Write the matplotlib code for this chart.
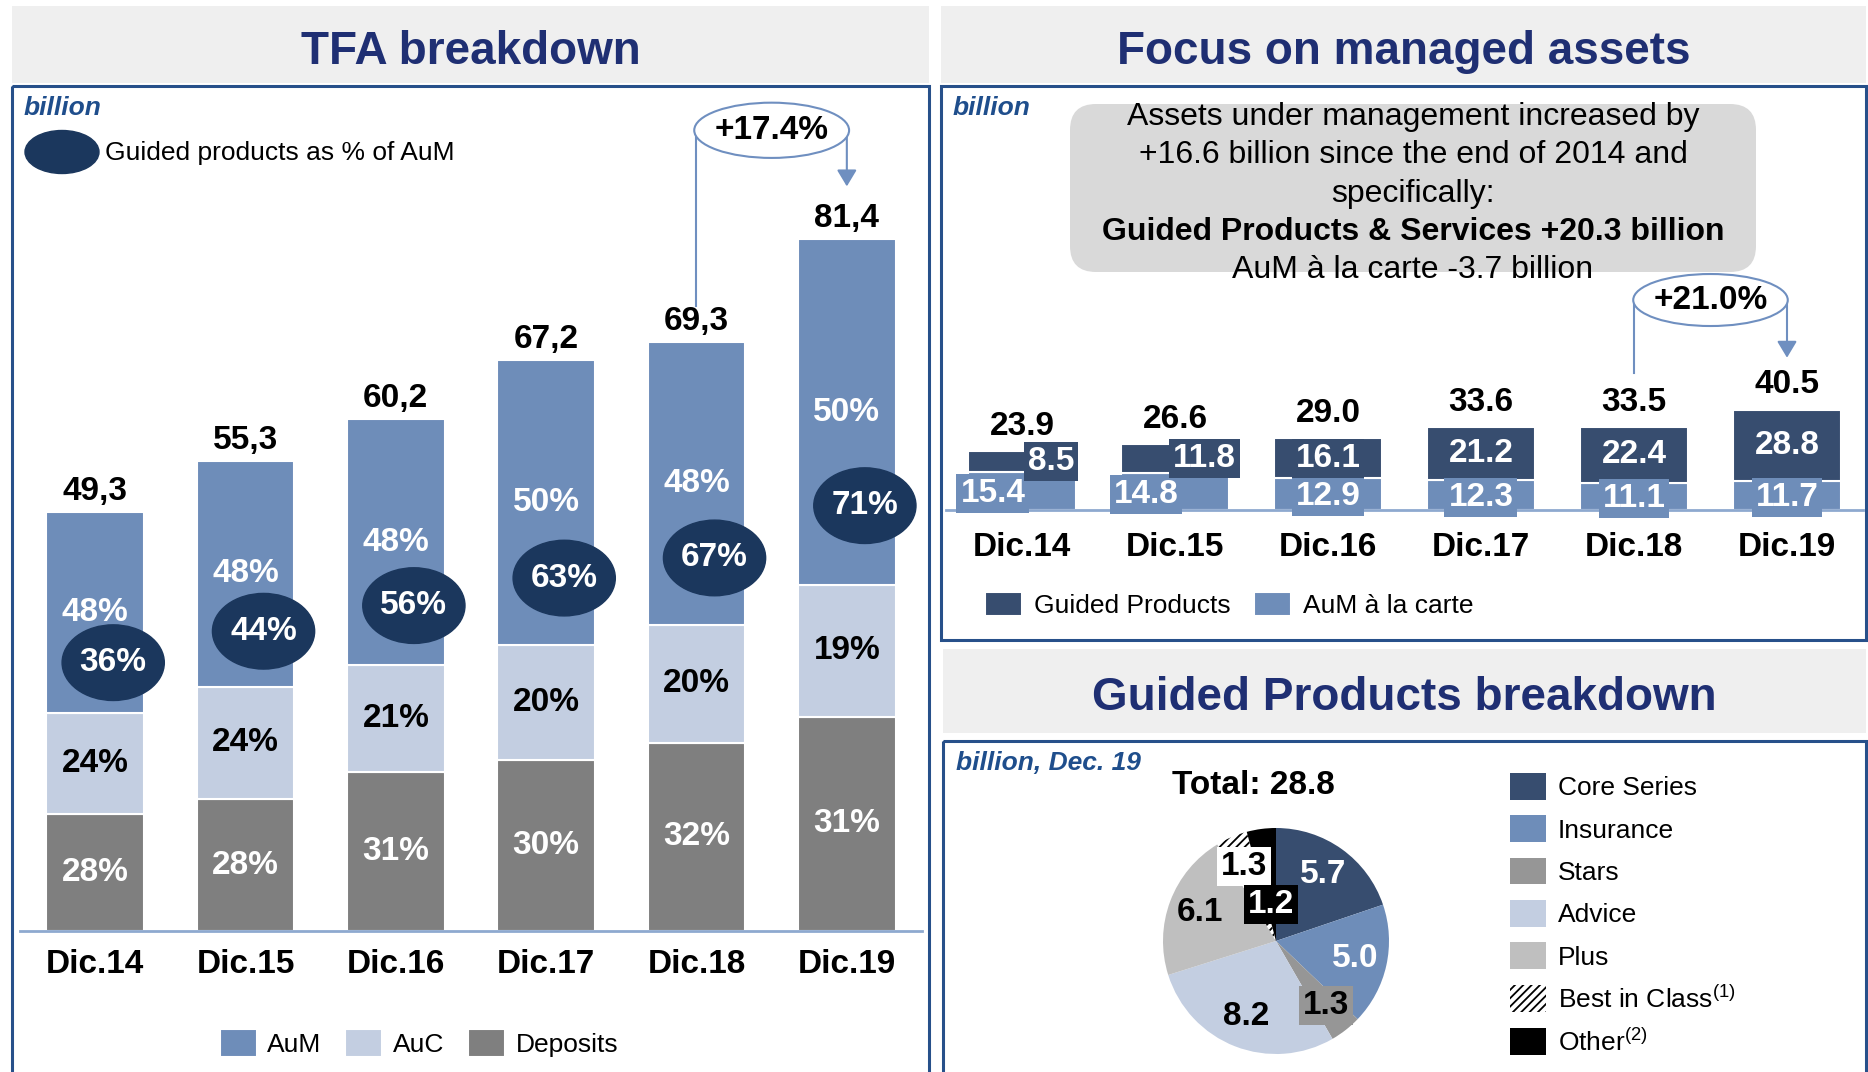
import numpy as np
import matplotlib.pyplot as plt
from matplotlib.patches import Rectangle, Ellipse, FancyBboxPatch, Patch

plt.rcParams['font.family'] = ['Liberation Sans', 'DejaVu Sans']
plt.rcParams['mathtext.fontset'] = 'custom'
plt.rcParams['mathtext.rm'] = 'Liberation Sans'
plt.rcParams['hatch.linewidth'] = 1.3

## data
years = ['Dic.14', 'Dic.15', 'Dic.16', 'Dic.17', 'Dic.18', 'Dic.19']
tfa_total = [49.3, 55.3, 60.2, 67.2, 69.3, 81.4]
aum_pct = [48, 48, 48, 50, 48, 50]
auc_pct = [24, 24, 21, 20, 20, 19]
dep_pct = [28, 28, 31, 30, 32, 31]
guided_pct = [36, 44, 56, 63, 67, 71]
tfa_growth = '+17.4%'

guided = [8.5, 11.8, 16.1, 21.2, 22.4, 28.8]
carte = [15.4, 14.8, 12.9, 12.3, 11.1, 11.7]
managed_total = [23.9, 26.6, 29.0, 33.6, 33.5, 40.5]
managed_growth = '+21.0%'

pie_labels = ['Core Series', 'Insurance', 'Stars', 'Advice', 'Plus',
              'Best in Class$^{(1)}$', 'Other$^{(2)}$']
pie_values = [5.7, 5.0, 1.3, 8.2, 6.1, 1.3, 1.2]
pie_total = 28.8

box_lines = ['Assets under management increased by',
             '+16.6 billion since the end of 2014 and',
             'specifically:',
             'Guided Products & Services +20.3 billion',
             'AuM à la carte -3.7 billion']

## colours
TITLE = '#1F2F73'
BORDER = '#27508A'
BAND = '#EFEFEF'
UNIT = '#1F4E8C'
C_AUM = '#6E8DB9'
C_AUC = '#C3CEE1'
C_DEP = '#7F7F7F'
C_CIRC = '#1B375D'
C_GUIDED = '#374D6F'
AXLINE = '#8EA9CF'
ARROW = '#6F8FC0'
pie_colors = [C_GUIDED, C_AUM, '#969696', C_AUC, '#BFBFBF', 'white', 'black']

W, H = 1868, 1072
fig = plt.figure(figsize=(W / 100, H / 100), dpi=100)

# background layer in pixel coords (y down)
bg = fig.add_axes([0, 0, 1, 1])
bg.set_xlim(0, W)
bg.set_ylim(H, 0)
bg.axis('off')


def px_axes(x0, y0, x1, y1):
    a = fig.add_axes([x0 / W, 1 - y1 / H, (x1 - x0) / W, (y1 - y0) / H])
    a.patch.set_alpha(0)
    return a


def panel(x0, x1, band_top, band_bot, box_top, box_bot, title):
    bg.add_patch(Rectangle((x0, band_top), x1 - x0, band_bot - band_top,
                           facecolor=BAND, edgecolor='none'))
    bg.add_patch(Rectangle((x0, box_top), x1 - x0, box_bot - box_top,
                           facecolor='none', edgecolor=BORDER, lw=2.2))
    bg.text((x0 + x1) / 2, (band_top + band_bot) / 2 + 7, title, ha='center',
            va='center', fontsize=33, fontweight='bold', color=TITLE)


panel(12, 929, 6, 83, 86, 1085, 'TFA breakdown')
panel(941, 1866, 6, 83, 86, 640, 'Focus on managed assets')
panel(943, 1866, 649, 733, 741, 1085, 'Guided Products breakdown')

for tx, ty, s in [(24, 108, 'billion'), (953, 108, 'billion'), (956, 763, 'billion, Dec. 19')]:
    bg.text(tx, ty, s, ha='left', va='center', fontsize=19, fontweight='bold',
            style='italic', color=UNIT)

# legend for the guided % circles
bg.add_patch(Ellipse((62, 152), 74, 43, color=C_CIRC))
bg.text(105, 153, 'Guided products as % of AuM', va='center', fontsize=19)

# text box, managed assets
bg.add_patch(FancyBboxPatch((1070, 104), 686, 168,
                            boxstyle='round,pad=0,rounding_size=26',
                            facecolor='#D9D9D9', edgecolor='none'))
for k, line in enumerate(box_lines):
    bg.text(1413, 117 + k * 38.3, line, ha='center', va='center', fontsize=23,
            fontweight='bold' if k == 3 else 'normal')


def style_axis(a, pad):
    for s in ['top', 'left', 'right']:
        a.spines[s].set_visible(False)
    a.spines['bottom'].set_color(AXLINE)
    a.spines['bottom'].set_linewidth(2)
    a.set_yticks([])
    a.tick_params(axis='x', length=0, pad=pad)
    for t in a.get_xticklabels():
        t.set_fontweight('bold')
        t.set_fontsize(24)


lab = dict(ha='center', va='center', fontsize=24, fontweight='bold')

## TFA breakdown
ax = px_axes(20, 81, 922, 931)
x = np.arange(len(years))
tot = np.array(tfa_total)
dep = tot * np.array(dep_pct) / 100
auc = tot * np.array(auc_pct) / 100
aum = tot * np.array(aum_pct) / 100
bw = 0.65
b_dep = ax.bar(x, dep, bw, color=C_DEP, edgecolor='white', lw=1.5)
b_auc = ax.bar(x, auc, bw, bottom=dep, color=C_AUC, edgecolor='white', lw=1.5)
b_aum = ax.bar(x, aum, bw, bottom=dep + auc, color=C_AUM, edgecolor='white', lw=1.5)
ax.set_xlim(-0.5, 5.5)
ax.set_ylim(0, 100)
ax.set_xticks(x, years)
style_axis(ax, 13)

for i in range(len(years)):
    ax.text(i, dep[i] / 2, f'{dep_pct[i]}%', color='white', **lab)
    ax.text(i, dep[i] + auc[i] / 2, f'{auc_pct[i]}%', color='black', **lab)
    ax.text(i, dep[i] + auc[i] + aum[i] / 2, f'{aum_pct[i]}%', color='white', **lab)
    ax.text(i, tot[i] + 2.4, f'{tot[i]:.1f}'.replace('.', ','), color='black', **lab)
    cy = dep[i] + auc[i] + 0.2 * aum[i] + 1.2
    ax.add_patch(Ellipse((i + 0.12, cy), 0.68, 8.9, color=C_CIRC, zorder=3))
    ax.text(i + 0.12, cy, f'{guided_pct[i]}%', color='white', zorder=4, **lab)

ax.legend([b_aum, b_auc, b_dep], ['AuM', 'AuC', 'Deposits'], loc='center',
          bbox_to_anchor=(419 / W, 1 - 1043 / H), bbox_transform=fig.transFigure,
          ncol=3, frameon=False, fontsize=19, handlelength=1.4, handleheight=1.25,
          handletextpad=0.4, columnspacing=0.9)


def growth_arrow(a, x0, x1, y_start, y_top, y_end, ew, eh, txt):
    a.plot([x0, x0], [y_start, y_top], color=ARROW, lw=1.5, clip_on=False)
    a.annotate('', xy=(x1, y_end), xytext=(x1, y_top),
               arrowprops=dict(arrowstyle='-|>,head_length=0.5,head_width=0.3',
                               color=ARROW, lw=1.5, mutation_scale=20,
                               shrinkA=0, shrinkB=0))
    a.add_patch(Ellipse(((x0 + x1) / 2, y_top), ew, eh, facecolor='white',
                        edgecolor=ARROW, lw=1.5, zorder=4, clip_on=False))
    a.text((x0 + x1) / 2, y_top, txt, zorder=5, **lab)


growth_arrow(ax, 4, 5, tot[4] + 4.2, tot.max() + 12.8, tot[5] + 6.2, 1.03, 6.5, tfa_growth)

## Focus on managed assets
ax2 = px_axes(945.5, 250, 1863.5, 510)
mt = np.array(managed_total)
b_car = ax2.bar(x, carte, 0.7, color=C_AUM, edgecolor='white', lw=1.5)
b_gui = ax2.bar(x, guided, 0.7, bottom=carte, color=C_GUIDED, edgecolor='white', lw=1.5)
ax2.set_xlim(-0.5, 5.5)
ax2.set_ylim(0, 105)
ax2.set_xticks(x, years)
style_axis(ax2, 16)

for i in range(len(years)):
    shift = 0.19 if i < 2 else 0.0
    ax2.text(i - shift, carte[i] / 2 - 1, f'{carte[i]:.1f}', color='white', zorder=4,
             bbox=dict(boxstyle='square,pad=0.12', facecolor=C_AUM, edgecolor='none'), **lab)
    ax2.text(i + shift, carte[i] + guided[i] / 2, f'{guided[i]:.1f}', color='white', zorder=4,
             bbox=dict(boxstyle='square,pad=0.12', facecolor=C_GUIDED, edgecolor='none'), **lab)
    ax2.text(i, mt[i] + 10, f'{mt[i]:.1f}', color='black', **lab)

ax2.legend([b_gui, b_car], ['Guided Products', 'AuM à la carte'], loc='center',
           bbox_to_anchor=(1229 / W, 1 - 605 / H), bbox_transform=fig.transFigure,
           ncol=2, frameon=False, fontsize=19, handlelength=1.4, handleheight=1.0,
           handletextpad=0.45, columnspacing=0.9)

growth_arrow(ax2, 4, 5, mt[4] + 21.8, mt.max() + 44.3, mt[5] + 21, 1.01, 21, managed_growth)

## Guided products breakdown
axp = px_axes(1163, 828, 1389, 1054)
wedges, _ = axp.pie(pie_values, colors=pie_colors, startangle=90, counterclock=False,
                    radius=1, wedgeprops=dict(edgecolor='none'))
wedges[5].set_edgecolor('black')
wedges[5].set_linewidth(0)
wedges[5].set_hatch('////')
axp.set_xlim(-1, 1)
axp.set_ylim(-1, 1)
axp.set_aspect('equal')

pie_text = ['white', 'white', 'black', 'black', 'black', 'black', 'white']
pie_box = [None, None, '#969696', None, None, 'white', 'black']
for k, w in enumerate(wedges):
    ang = np.deg2rad((w.theta1 + w.theta2) / 2)
    r = 0.33 if k == 6 else 0.72
    kw = dict(lab)
    if pie_box[k]:
        kw['bbox'] = dict(boxstyle='square,pad=0.12', facecolor=pie_box[k], edgecolor='none')
    axp.text(r * np.cos(ang), r * np.sin(ang), f'{pie_values[k]:.1f}',
             color=pie_text[k], zorder=5, **kw)

bg.text(1253, 785, f'Total: {pie_total:.1f}', ha='center', va='center',
        fontsize=24, fontweight='bold')

handles = [Patch(facecolor=c, edgecolor='none') for c in pie_colors]
handles[5] = Patch(facecolor='white', edgecolor='black', hatch='////', lw=0)
axp.legend(handles, pie_labels, loc='upper left',
           bbox_to_anchor=(1510 / W, 1 - 773 / H), bbox_transform=fig.transFigure,
           frameon=False, fontsize=19, handlelength=1.36, handleheight=1.17,
           handletextpad=0.45, labelspacing=0.575, borderpad=0, borderaxespad=0)

fig.savefig('out.png', dpi=100)
